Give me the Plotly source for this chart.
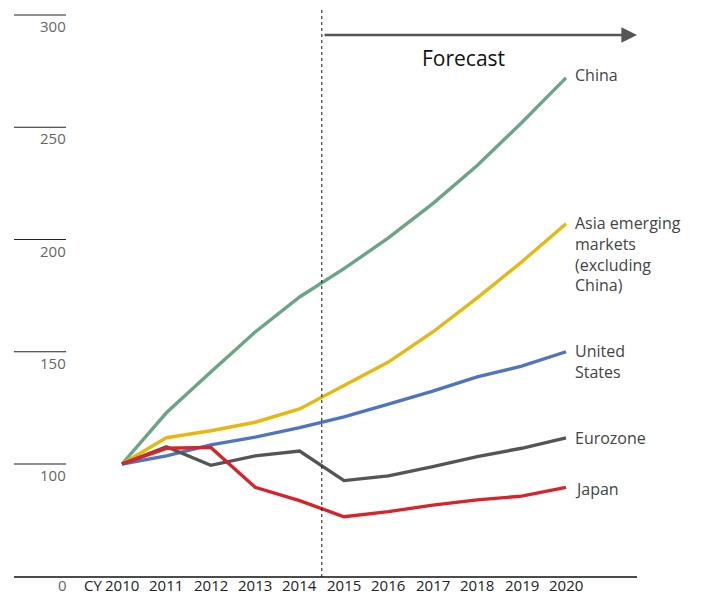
import plotly.graph_objects as go

years = [2010, 2011, 2012, 2013, 2014, 2015, 2016, 2017, 2018, 2019, 2020]
china = [100, 122.8, 141, 158.8, 174.4, 187, 200.7, 216, 233, 252, 272]
asia_em = [100, 111.7, 114.8, 118.6, 124.5, 135, 145.4, 158.8, 174, 190, 207]
united_states = [100, 103.6, 108.5, 112, 116.2, 121, 126.7, 132.5, 138.8, 143.6, 150]
eurozone = [100, 107.7, 99.4, 103.6, 105.8, 92.6, 94.7, 98.8, 103.3, 107, 111.6]
japan = [100, 107, 107.4, 89.6, 83.7, 76.5, 78.8, 81.7, 84, 85.7, 89.6]

series_names = ["China", "Asia emerging<br>markets<br>(excluding<br>China)", "United<br>States", "Eurozone", "Japan"]
series_values = [china, asia_em, united_states, eurozone, japan]
series_colors = ["#6aa586", "#e8b80e", "#4f74c1", "#555555", "#d9232a"]
label_y = [273.3, 193.5, 145.7, 111.6, 88.9]

y_ticks = [300, 250, 200, 150, 100]
y_tick_labels = ["300", "250", "200", "150", "100"]
x_tick_labels = ["2010", "2011", "2012", "2013", "2014", "2015", "2016", "2017", "2018", "2019", "2020"]

FONT = "Open Sans"
OFF = 8  # page body margin
W, H = 703 - OFF, 596 - OFF
px_per_year = 44.4
px_per_unit = 2.245
x0 = 2010 - (122 - OFF) / px_per_year
x1 = x0 + W / px_per_year
y1 = 100 + (464 - OFF) / px_per_unit
y0 = y1 - H / px_per_unit

def px_to_x(p):
    return x0 + (p - OFF) / px_per_year

def px_to_y(p):
    return y1 - (p - OFF) / px_per_unit

fig = go.Figure()
for name, vals, col in zip(series_names, series_values, series_colors):
    fig.add_trace(go.Scatter(x=years, y=vals, mode="lines", line=dict(color=col, width=3.4),
                             name=name, showlegend=False, hoverinfo="skip"))

shapes = []
annotations = []
for v, t in zip(y_ticks, y_tick_labels):
    shapes.append(dict(type="line", xref="x", yref="y", x0=px_to_x(14), x1=px_to_x(66), y0=v, y1=v,
                       line=dict(color="#222222", width=1.2)))
    annotations.append(dict(x=px_to_x(68), y=v, yshift=-11, text=t, showarrow=False, xanchor="right",
                            yanchor="middle", font=dict(family=FONT, size=15, color="#666666")))
shapes.append(dict(type="line", xref="x", yref="y", x0=px_to_x(14), x1=px_to_x(637), y0=px_to_y(577), y1=px_to_y(577),
                   line=dict(color="#111111", width=1.5)))
shapes.append(dict(type="line", xref="x", yref="y", x0=2014.5, x1=2014.5, y0=px_to_y(577), y1=px_to_y(10),
                   line=dict(color="#111111", width=1, dash="dot")))

base_y = px_to_y(585)
for yr, t in zip(years, x_tick_labels):
    annotations.append(dict(x=yr, y=base_y, text=t, showarrow=False, xanchor="center", yanchor="middle",
                            borderpad=0, font=dict(family=FONT, size=15, color="#222222")))
annotations.append(dict(x=px_to_x(103), y=base_y, text="CY", showarrow=False, xanchor="right", yanchor="middle",
                        borderpad=0, font=dict(family=FONT, size=15, color="#222222")))
annotations.append(dict(x=px_to_x(62), y=base_y, text="0", showarrow=False, xanchor="center", yanchor="middle",
                        borderpad=0, font=dict(family=FONT, size=15, color="#666666")))

annotations.append(dict(x=px_to_x(637), y=px_to_y(35), ax=px_to_x(323), ay=px_to_y(35), axref="x", ayref="y",
                        xref="x", yref="y", text="", showarrow=True, arrowhead=2, arrowsize=1.2,
                        arrowwidth=2.6, arrowcolor="#555555"))
annotations.append(dict(x=px_to_x(463), y=px_to_y(58), text="Forecast", showarrow=False, xanchor="center",
                        yanchor="middle", font=dict(family=FONT, size=21, color="#111111")))

for name, ly in zip(series_names, label_y):
    annotations.append(dict(x=px_to_x(573), y=ly, text=name, showarrow=False, xanchor="left", yanchor="middle",
                            align="left", font=dict(family=FONT, size=16, color="#444444")))

fig.update_layout(
    width=W, height=H,
    margin=dict(l=0, r=0, t=0, b=0),
    paper_bgcolor="white", plot_bgcolor="white",
    xaxis=dict(range=[x0, x1], visible=False, fixedrange=True),
    yaxis=dict(range=[y0, y1], visible=False, fixedrange=True),
    shapes=shapes, annotations=annotations,
    showlegend=False,
)
fig.write_html("out.html")
